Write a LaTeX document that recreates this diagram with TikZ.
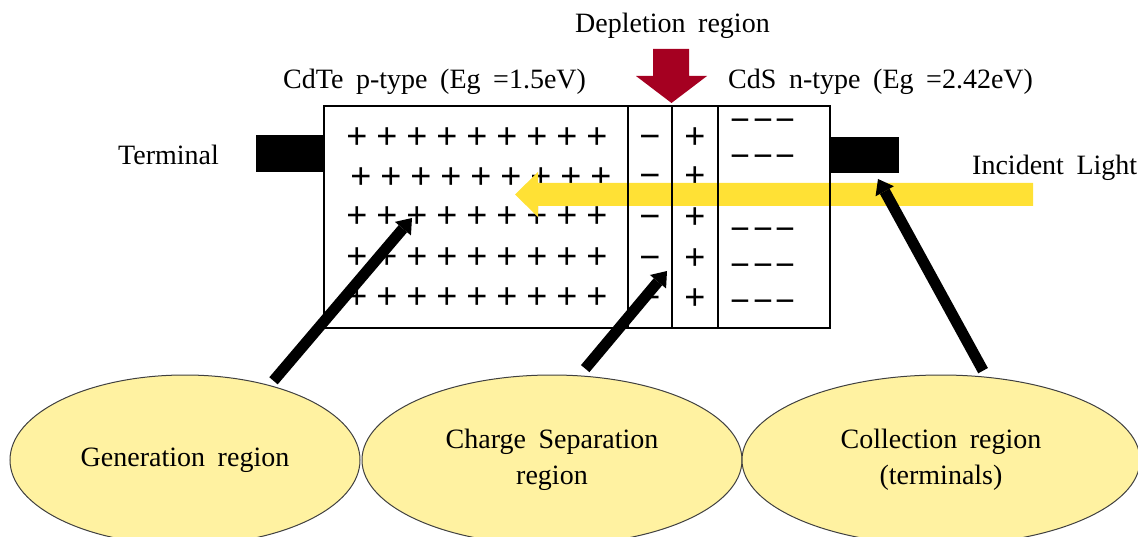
\documentclass[tikz,border=0pt]{standalone}
\usepackage{fontspec}
\setmainfont[WordSpace=1.8]{Liberation Serif}
\newfontfamily\signfont{Liberation Sans}
\usetikzlibrary{shapes.geometric,arrows.meta}
\definecolor{lightbeam}{HTML}{FFE135}
\definecolor{depred}{HTML}{A50021}
\definecolor{ellfill}{HTML}{FFF2A1}
\definecolor{ellline}{HTML}{404040}

\begin{document}
\begin{tikzpicture}[x=1pt,y=-1pt,
  txt/.style={font=\fontsize{28}{34}\selectfont, inner sep=0pt, anchor=base west},
  sign/.style={font=\signfont\fontsize{36}{38}\selectfont, inner sep=0pt},
  region/.style={ellipse, draw=ellline, line width=1pt, fill=ellfill, inner sep=0pt,
    align=center, minimum height=170pt, font=\fontsize{28}{36}\selectfont},
  pointer/.style={line width=11pt, -{Triangle[width=21pt,length=14pt,line width=0pt]}},
  edge/.style={line width=2pt},
]
\useasboundingbox (0,0) rectangle (1138,537);

% p-type CdTe: fixed positive charges
\foreach \y/\dx in {138/0,178/4,217/0,258/0,298/0} {
  \foreach \k in {0,...,8} {
    \node[sign] (p-\y-\k) at (357+30*\k+\dx,\y) {+};
  }
}
% depletion region: negative and positive columns
\foreach \y in {138,177,218,259,299} {
  \node[sign] (dm-\y) at (650,\y) {\vphantom{+}−};
  \node[sign] (dp-\y) at (695,\y) {+};
}
% n-type CdS: free electrons
\foreach \y in {122,158,231,267,303} {
  \foreach \xx in {740,763,785} {
    \node[sign, font=\signfont\fontsize{34}{36}\selectfont] (n-\y-\xx) at (\xx,\y) {\vphantom{+}−};
  }
}

% incident light beam
\fill[lightbeam] (1033,183) -- (538,183) -- (538,172) -- (515,194.5)
  -- (538,217) -- (538,206) -- (1033,206) -- cycle;

% cell outline and layer boundaries
\draw[edge] (324,106) rectangle (830,328);
\draw[edge] (628,106) -- (628,328);
\draw[edge] (672,106) -- (672,328);
\draw[edge] (718,106) -- (718,328);

% terminals
\fill (256,135) rectangle (324,172);
\fill (830,137) rectangle (899,173);

% depletion marker
\fill[depred] (653,49) -- (689,49) -- (689,76) -- (707,76) -- (671.5,103)
  -- (636,76) -- (653,76) -- cycle;

% labels
\node[txt] (deplabel) at (575,33) {Depletion region};
\node[txt] (ptype) at (283,89) {CdTe p-type (Eg =1.5eV)};
\node[txt] (ntype) at (728,89) {CdS n-type (Eg =2.42eV)};
\node[txt] (term) at (118,165) {Terminal};
\node[txt] (light) at (972,175) {Incident Light};

% regions
\node[region, minimum width=350pt] (gen) at (185,460) {Generation region};
\node[region, minimum width=380pt] (sep) at (552,460) {Charge Separation\\region};
\node[region, minimum width=398pt] (col) at (941,460) {Collection region\\(terminals)};

% pointers from regions into the cell
\coordinate (gentgt) at (412,218);
\coordinate (septgt) at (667,271);
\coordinate (coltgt) at (878,179);
\draw[pointer] ([shift={(5,-4)}]gen.42) -- (gentgt);
\draw[pointer] ([shift={(2.5,-7)}]sep.70) -- (septgt);
\draw[pointer] ([shift={(3,-5.5)}]col.65) -- (coltgt);
\end{tikzpicture}
\end{document}
